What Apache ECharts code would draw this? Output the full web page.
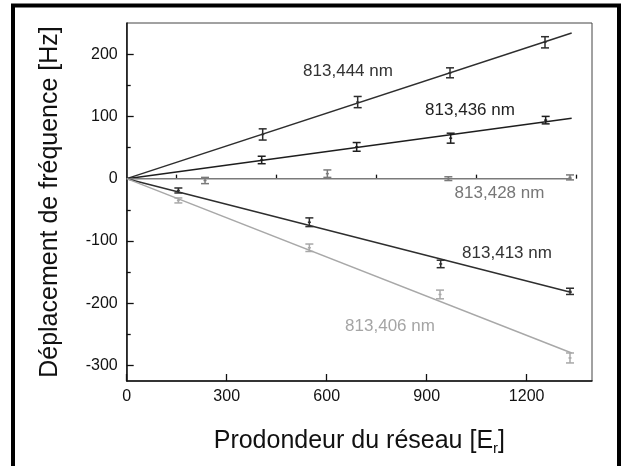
<!DOCTYPE html>
<html>
<head>
<meta charset="utf-8">
<script src="https://cdn.jsdelivr.net/npm/echarts@6/dist/echarts.min.js"></script>
<style>
html,body{margin:0;padding:0;background:#fff;}
#chart{width:623px;height:466px;}
</style>
</head>
<body>
<div id="chart"></div>
<script>
// ---- data ----
var x444 = [408, 693, 970, 1255];
var y444 = [71, 123, 170, 219];
var e444 = [9, 9, 8, 9];

var x436 = [405, 690, 972, 1257];
var y436 = [30, 51, 65, 94];
var e436 = [6, 7, 8, 6];

var x428 = [235, 602, 965, 1330];
var y428 = [-3, 8, 0, 2];
var e428 = [5, 6, 3, 4];

var x413 = [155, 548, 942, 1330];
var y413 = [-19, -70, -137, -181];
var e413 = [4, 7, 6, 5];

var x406 = [155, 548, 940, 1330];
var y406 = [-35, -111, -186, -288];
var e406 = [4, 6, 7, 8];

// fitted lines (start, end)
var fitX = [0, 1335];
var fit444 = [0, 234];
var fit436 = [0, 97];
var fit428 = [0, 0];
var fit413 = [0, -183];
var fit406 = [0, -280];

var seriesNames = ['813,444 nm', '813,436 nm', '813,428 nm', '813,413 nm', '813,406 nm'];

// tick values
var xMajorTicks = [0, 300, 600, 900, 1200];
var xMinorTicks = [150, 450, 750, 1050, 1350];
var yMajorTicks = [-300, -200, -100, 0, 100, 200];
var yMinorTicks = [-250, -150, -50, 50, 150];

// ---- styles ----
var colors = ['#2e2e2e', '#1e1e1e', '#7a7a7a', '#2e2e2e', '#a8a8a8'];
var labelColors = ['#333', '#222', '#777', '#333', '#a5a5a5'];
var labelPos = [[348, 71.5], [470, 110], [499.5, 193.5], [507, 253.5], [390, 326.5]];

function pairs(xs, ys, es) {
  return xs.map(function (x, i) { return es ? [x, ys[i], es[i]] : [x, ys[i]]; });
}

function errRender(color) {
  return function (params, api) {
    var x = api.value(0), y = api.value(1), e = api.value(2);
    var top = api.coord([x, y + e]);
    var bot = api.coord([x, y - e]);
    var mid = api.coord([x, y]);
    var hw = 4;
    var st = { stroke: color, lineWidth: 1.5 };
    return {
      type: 'group',
      children: [
        { type: 'line', shape: { x1: top[0], y1: top[1], x2: bot[0], y2: bot[1] }, style: st },
        { type: 'line', shape: { x1: top[0] - hw, y1: top[1], x2: top[0] + hw, y2: top[1] }, style: st },
        { type: 'line', shape: { x1: bot[0] - hw, y1: bot[1], x2: bot[0] + hw, y2: bot[1] }, style: st },
        { type: 'line', shape: { x1: mid[0] - 1.5, y1: mid[1], x2: mid[0] + 1.5, y2: mid[1] }, style: st }
      ]
    };
  };
}

var fits = [fit444, fit436, fit428, fit413, fit406];
var pts = [[x444, y444, e444], [x436, y436, e436], [x428, y428, e428], [x413, y413, e413], [x406, y406, e406]];

var series = [];
fits.forEach(function (f, i) {
  series.push({
    type: 'line',
    name: seriesNames[i],
    data: pairs(fitX, f),
    showSymbol: false,
    symbol: 'none',
    lineStyle: { color: colors[i], width: 1.5 },
    z: 2,
    animation: false
  });
});
pts.forEach(function (p, i) {
  series.push({
    type: 'custom',
    name: seriesNames[i] + ' err',
    data: pairs(p[0], p[1], p[2]),
    renderItem: errRender(colors[i]),
    encode: { x: 0, y: 1 },
    z: 3,
    animation: false
  });
});

var graphics = [
  { type: 'polyline', shape: { points: [[13, 466], [13, 5.5], [619, 5.5], [619, 466]] },
    style: { stroke: '#000', lineWidth: 4, fill: null }, z: 100 }
];
seriesNames.forEach(function (n, i) {
  graphics.push({
    type: 'text',
    x: labelPos[i][0], y: labelPos[i][1],
    style: { text: n, fill: labelColors[i], font: '17px Arial, "Liberation Sans", sans-serif',
             textAlign: 'center', textVerticalAlign: 'middle' },
    z: 50
  });
});

var axisFont = 'Arial, "Liberation Sans", sans-serif';
function plain(v) { return String(v); }

var option = {
  backgroundColor: '#fff',
  animation: false,
  grid: {
    left: 126.7, top: 23, right: 31, bottom: 85,
    show: true, borderColor: '#444', borderWidth: 1, backgroundColor: 'transparent'
  },
  xAxis: [
    {
      type: 'value', min: 0, max: 1396, position: 'bottom',
      name: '{n|Prodondeur du réseau [E}{s|r}{n|]}',
      nameLocation: 'middle', nameGap: 46,
      nameTextStyle: {
        rich: {
          n: { fontSize: 25, fontFamily: axisFont, color: '#111' },
          s: { fontSize: 15, fontFamily: axisFont, color: '#111', padding: [14, 0, 0, 0] }
        }
      },
      axisLine: { show: true, onZero: false, lineStyle: { color: '#111', width: 1.5 } },
      axisTick: { show: true, inside: true, length: 7, customValues: xMajorTicks, lineStyle: { color: '#111', width: 1.3 } },
      axisLabel: { customValues: xMajorTicks, formatter: plain, fontSize: 16, color: '#111', fontFamily: axisFont, margin: 8 },
      splitLine: { show: false }
    },
    {
      type: 'value', min: 0, max: 1396, position: 'bottom', gridIndex: 0,
      axisLine: { show: false },
      axisTick: { show: true, inside: true, length: 4, customValues: xMinorTicks, lineStyle: { color: '#111', width: 1.3 } },
      axisLabel: { show: false },
      splitLine: { show: false }
    }
  ],
  yAxis: [
    {
      type: 'value', min: -325, max: 250, position: 'left',
      name: 'Déplacement de fréquence [Hz]',
      nameLocation: 'middle', nameGap: 64, nameRotate: 90,
      nameTextStyle: { fontSize: 25, fontFamily: axisFont, color: '#111' },
      axisLine: { show: true, onZero: false, lineStyle: { color: '#111', width: 1.5 } },
      axisTick: { show: true, inside: true, length: 7, customValues: yMajorTicks, lineStyle: { color: '#111', width: 1.3 } },
      axisLabel: { customValues: yMajorTicks, formatter: plain, fontSize: 16, color: '#111', fontFamily: axisFont, margin: 9 },
      splitLine: { show: false }
    },
    {
      type: 'value', min: -325, max: 250, position: 'left', gridIndex: 0,
      axisLine: { show: false },
      axisTick: { show: true, inside: true, length: 4, customValues: yMinorTicks, lineStyle: { color: '#111', width: 1.3 } },
      axisLabel: { show: false },
      splitLine: { show: false }
    }
  ],
  series: series,
  graphic: graphics
};

var chart = echarts.init(document.getElementById('chart'), null, { renderer: 'canvas' });
chart.setOption(option);
</script>
</body>
</html>
